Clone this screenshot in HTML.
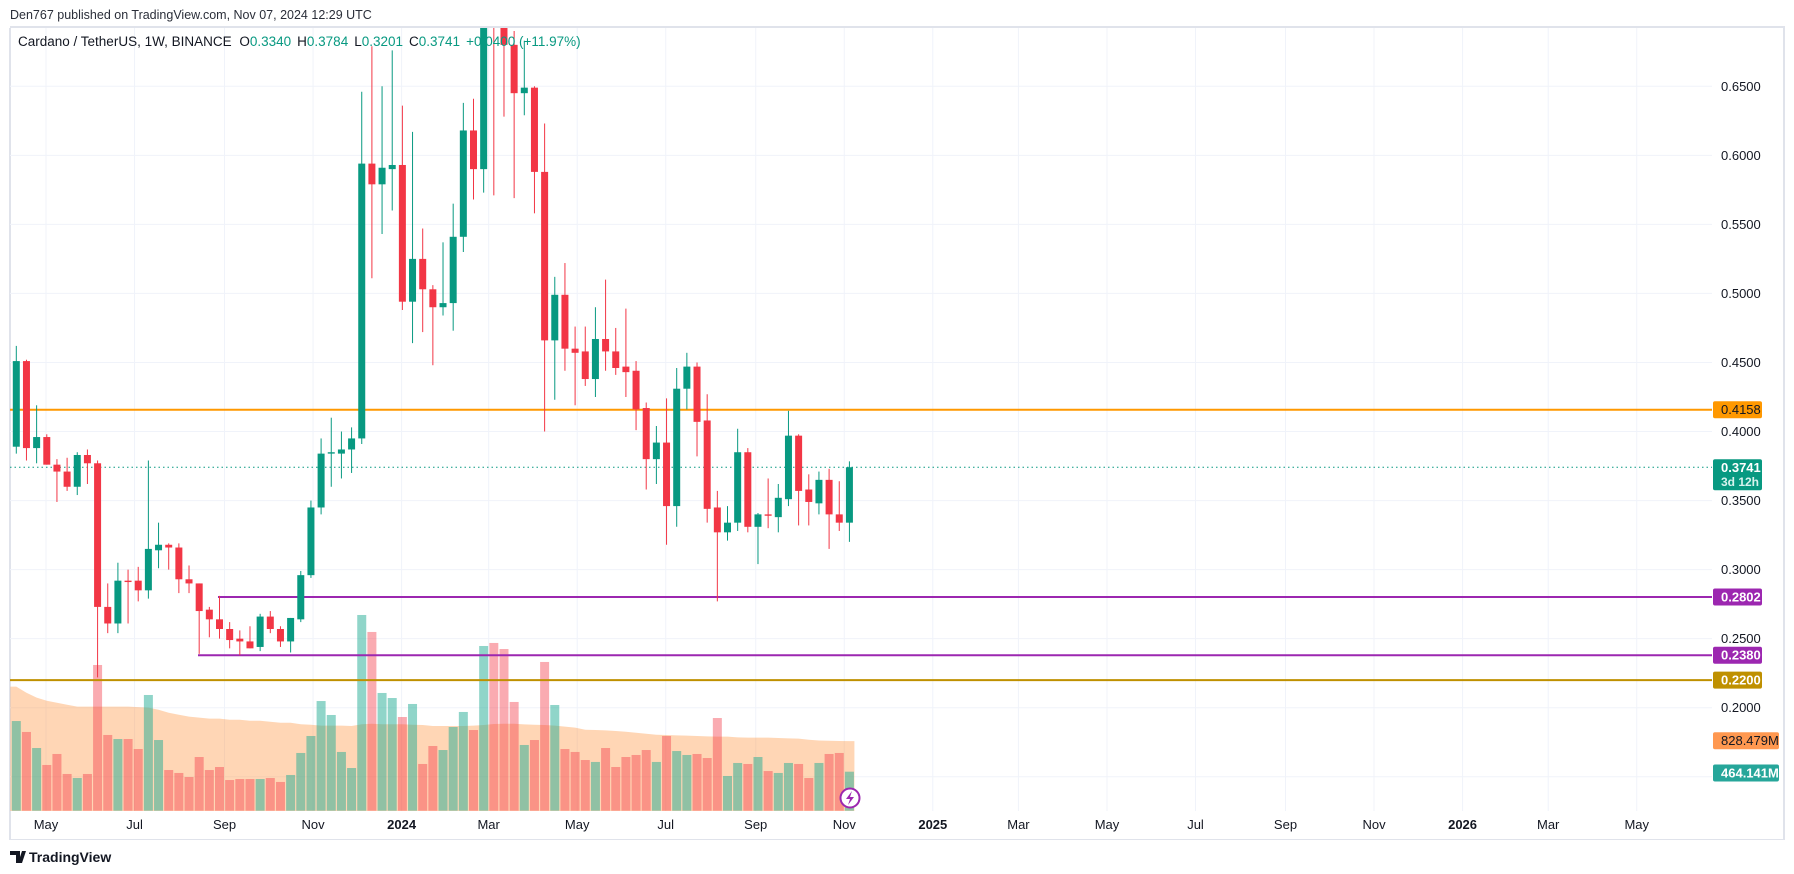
<!DOCTYPE html>
<html><head><meta charset="utf-8">
<style>
html,body{margin:0;padding:0;background:#fff;}
body{width:1794px;height:874px;overflow:hidden;font-family:"Liberation Sans",sans-serif;}
svg{display:block;}
</style></head>
<body>
<svg id="chart" width="1794" height="874" xmlns="http://www.w3.org/2000/svg">
  <defs><clipPath id="plotclip"><rect x="10" y="28" width="1702" height="783"/></clipPath></defs>
  <rect x="0" y="0" width="1794" height="874" fill="#fff"/>
  <text x="10" y="19" font-size="12.5" fill="#2a2e39">Den767 published on TradingView.com, Nov 07, 2024 12:29 UTC</text>
  <rect x="10" y="26" width="1775" height="2" fill="#e0e3eb"/>
  <rect x="9" y="28" width="2" height="812" fill="#e0e3eb"/>
  <rect x="1783" y="28" width="2" height="812" fill="#e0e3eb"/>
  <rect x="10" y="839" width="1775" height="1" fill="#e0e3eb"/>
  <g id="grid"></g>
  <g id="vol" clip-path="url(#plotclip)"></g>
  <g id="lines"></g>
  <g id="candles" clip-path="url(#plotclip)"></g>
  <g id="axis"></g>
  <g id="taxis"></g>
  <text x="18" y="46" font-size="13.5" fill="#131722">Cardano / TetherUS, 1W, BINANCE <tspan dx="4">O</tspan><tspan fill="#089981">0.3340</tspan><tspan dx="6">H</tspan><tspan fill="#089981">0.3784</tspan><tspan dx="6">L</tspan><tspan fill="#089981">0.3201</tspan><tspan dx="6">C</tspan><tspan fill="#089981">0.3741</tspan><tspan dx="6" fill="#089981">+0.0400 (+11.97%)</tspan></text>
  <circle cx="850" cy="798" r="9.5" fill="#fff" stroke="#9c27b0" stroke-width="2"/>
  <path d="M852 791 L846 799 L850 799 L848 805 L854 797 L850 797 Z" fill="#9c27b0"/>
  <g>
    <path d="M10 851 H20 V863 H16 V855 H10 Z M22 851 H26 L22 863 H18 Z" fill="#131722"/>
    <text x="29" y="862" font-size="14" font-weight="bold" fill="#131722">TradingView</text>
  </g>
</svg>
<script>
const opens  = [.389,.451,.388,.396,.376,.371,.360,.383,.377,.273,.261,.292,.292,.285,.314,.318,.316,.293,.290,.271,.264,.257,.250,.248,.244,.266,.257,.248,.264,.296,.345,.384,.384,.387,.395,.594,.579,.590,.593,.494,.525,.503,.490,.493,.541,.618,.590,.700,.695,.680,.645,.649,.588,.466,.499,.460,.458,.438,.467,.458,.447,.444,.417,.380,.392,.346,.431,.447,.408,.345,.327,.334,.385,.331,.340,.338,.351,.397,.358,.348,.365,.340,.3340];
const highs  = [.462,.452,.419,.398,.380,.381,.385,.387,.379,.290,.305,.300,.302,.379,.334,.319,.319,.303,.290,.273,.281,.262,.256,.259,.268,.270,.259,.265,.299,.350,.395,.410,.400,.403,.646,.679,.650,.676,.636,.617,.547,.506,.537,.565,.638,.641,.720,.720,.710,.690,.683,.650,.623,.512,.522,.476,.476,.490,.510,.475,.489,.451,.421,.404,.424,.446,.457,.450,.427,.357,.346,.402,.388,.341,.366,.362,.415,.398,.369,.371,.373,.364,.3784];
const lows   = [.384,.379,.377,.376,.349,.357,.354,.362,.222,.254,.254,.261,.277,.279,.301,.300,.283,.283,.239,.251,.250,.243,.238,.243,.241,.254,.244,.240,.262,.294,.340,.360,.366,.370,.391,.511,.543,.560,.488,.464,.472,.448,.484,.473,.530,.568,.573,.571,.628,.569,.629,.558,.400,.423,.444,.419,.433,.425,.444,.441,.425,.401,.358,.362,.318,.331,.416,.382,.334,.277,.321,.328,.327,.304,.330,.327,.346,.332,.332,.340,.315,.328,.3201];
const closes = [.451,.388,.396,.376,.371,.360,.383,.377,.273,.261,.292,.291,.285,.315,.318,.316,.293,.290,.270,.264,.257,.249,.248,.243,.266,.257,.248,.265,.296,.345,.384,.385,.387,.395,.594,.579,.591,.593,.494,.525,.503,.490,.493,.541,.618,.590,.700,.695,.680,.645,.649,.588,.466,.499,.460,.457,.438,.467,.458,.446,.443,.416,.380,.392,.346,.431,.447,.407,.344,.327,.334,.385,.331,.340,.339,.352,.397,.357,.349,.365,.340,.334,.3741];
const volumes = [1067,937,746,544,675,437,389,437,1734,901,853,853,734,1377,841,484,449,401,639,484,520,365,377,377,377,389,342,425,687,889,1305,1139,699,508,2329,2127,1401,1341,1115,1270,556,770,722,996,1175,960,1960,1996,1924,1294,782,841,1770,1258,734,699,603,580,746,520,639,663,722,580,889,710,663,675,627,1103,413,568,556,639,472,449,568,556,389,568,675,687,464.141];
const volumeMA = [1476,1404,1345,1309,1285,1261,1238,1238,1238,1238,1238,1238,1232,1226,1202,1166,1142,1119,1107,1095,1095,1083,1083,1071,1071,1059,1047,1047,1029,1023,1012,1012,1012,1008,1029,1035,1029,1029,1029,1023,1020,1008,1008,1008,1008,1012,1020,1032,1035,1035,1027,1023,1020,1012,1000,988,964,960,956,948,940,928,916,904,901,896,893,889,884,881,881,872,869,869,869,865,860,857,845,835,832,830,828.479];
const priceTicks = ["0.6500","0.6000","0.5500","0.5000","0.4500","0.4000","0.3500","0.3000","0.2500","0.2000"];
const timeLabels = ["May","Jul","Sep","Nov","2024","Mar","May","Jul","Sep","Nov","2025","Mar","May","Jul","Sep","Nov","2026","Mar","May"];
const timeLabelDays = [0,61,123,184,245,305,366,427,489,550,611,670,731,792,854,915,976,1035,1096];
const levelPrices = [0.4158,0.2802,0.2380,0.2200];
const lastPrice = 0.3741;

const NS="http://www.w3.org/2000/svg";
function el(tag,attrs,parent){const e=document.createElementNS(NS,tag);for(const k in attrs)e.setAttribute(k,attrs[k]);parent.appendChild(e);return e;}
function yScale(p){return 409.7+(0.4158-p)*1381;}
function xScale(i){return 16.3+i*10.16;}
function volY(v){return 810.7-v/11.9;}
function dayX(d){return 46+d*1.4514;}
const GREEN="#089981",RED="#f23645";

const grid=document.getElementById('grid');
priceTicks.concat(["0.1500"]).forEach(t=>{
  const y=yScale(parseFloat(t));
  const l=el('line',{x1:10,x2:1712,y1:y,y2:y,stroke:"#f0f3fa","stroke-width":1},grid);
  
  
});
timeLabelDays.forEach(d=>{
  const x=dayX(d);
  const l=el('line',{x1:x,x2:x,y1:28,y2:811,stroke:"#f0f3fa","stroke-width":1},grid);
  
  
});

// volume MA area
const vol=document.getElementById('vol');
let d="M"+(xScale(0)-6)+" 811 L"+(xScale(0)-6)+" "+volY(volumeMA[0]);
volumeMA.forEach((v,i)=>{d+=" L"+xScale(i)+" "+volY(v);});
d+=" L"+(xScale(volumeMA.length-1)+5)+" "+volY(volumeMA[volumeMA.length-1])+" L"+(xScale(volumeMA.length-1)+5)+" 811 Z";
const area=el('path',{d:d,fill:"rgba(255,140,50,0.36)"},vol);


volumes.forEach((v,i)=>{
  const up=closes[i]>=opens[i];
  const y=volY(v);
  const r=el('rect',{x:xScale(i)-4.5,y:y,width:9,height:810.7-y,fill:up?"rgba(34,171,148,0.5)":"rgba(242,54,69,0.42)"},vol);
  
  
});

// levels
const lines=document.getElementById('lines');
const lvlStyles=[{c:"#ff9800",x:10},{c:"#9c27b0",x:218},{c:"#9c27b0",x:198},{c:"#bf9000",x:10}];
levelPrices.forEach((p,i)=>{
  const y=yScale(p);
  const l=el('line',{x1:lvlStyles[i].x,x2:1712,y1:y,y2:y,stroke:lvlStyles[i].c,"stroke-width":2},lines);
  
  
});
const ly=yScale(lastPrice);
const lp=el('line',{x1:10,x2:1712,y1:ly,y2:ly,stroke:GREEN,"stroke-width":1,"stroke-dasharray":"1.5 3"},lines);



// candles
const cg=document.getElementById('candles');
opens.forEach((o,i)=>{
  const c=closes[i],up=c>=o,col=up?GREEN:RED,x=xScale(i);
  const w=el('line',{x1:x,x2:x,y1:yScale(highs[i]),y2:yScale(lows[i]),stroke:col,"stroke-width":1},cg);
  
  
  const top=yScale(Math.max(o,c)),bot=yScale(Math.min(o,c));
  const b=el('rect',{x:x-3.5,y:top,width:7,height:Math.max(1.2,bot-top),fill:col},cg);
  
  
});

// price axis
const ax=document.getElementById('axis');
priceTicks.forEach(t=>{
  const tx=el('text',{x:1721,y:yScale(parseFloat(t))+4.5,"font-size":13,fill:"#131722"},ax);
  tx.textContent=t;
  
  
});
const boxes=[
  {p:levelPrices[0],bg:"#ff9800",fg:"#131722",t:levelPrices[0].toFixed(4),w:49,bold:false},
  {p:levelPrices[1],bg:"#9c27b0",fg:"#fff",t:levelPrices[1].toFixed(4),w:49,bold:true},
  {p:levelPrices[2],bg:"#9c27b0",fg:"#fff",t:levelPrices[2].toFixed(4),w:49,bold:true},
  {p:levelPrices[3],bg:"#bf9000",fg:"#fff",t:levelPrices[3].toFixed(4),w:49,bold:true}
];
boxes.forEach(b=>{
  const y=yScale(b.p);
  const r=el('rect',{x:1713,y:y-8.5,width:b.w,height:17,rx:2,fill:b.bg},ax);
  
  
  const t=el('text',{x:1721,y:y+4.5,"font-size":13,fill:b.fg,"font-weight":b.bold?"bold":"normal"},ax);
  t.textContent=b.t;
  
  
});
const lr=el('rect',{x:1713,y:ly-8,width:49,height:31,rx:2,fill:GREEN},ax);


const lt=el('text',{x:1721,y:ly+4.5,"font-size":13,fill:"#fff","font-weight":"bold"},ax);
lt.textContent=lastPrice.toFixed(4);


const lt2=el('text',{x:1721,y:ly+18.5,"font-size":12,fill:"#d8f3ee","font-weight":"bold"},ax);
lt2.textContent="3d 12h";


const vtags=[{v:volumeMA[volumeMA.length-1],bg:"#ff9850",fg:"#131722",b:false},{v:volumes[volumes.length-1],bg:"#26a69a",fg:"#fff",b:true}];
const vtagY=[740.7,773];
vtags.forEach((t,i)=>{
  const r=el('rect',{x:1713,y:vtagY[i]-8.5,width:66,height:17,rx:2,fill:t.bg},ax);
  
  
  const tx=el('text',{x:1721,y:vtagY[i]+4.5,"font-size":13,fill:t.fg,"font-weight":t.b?"bold":"normal"},ax);
  tx.textContent=t.v.toFixed(3)+"M";
  
  
});

// time axis
const ta=document.getElementById('taxis');
timeLabels.forEach((s,i)=>{
  const isYear=/^\d{4}$/.test(s);
  const t=el('text',{x:dayX(timeLabelDays[i]),y:829,"font-size":13,fill:"#131722","text-anchor":"middle","font-weight":isYear?"bold":"normal"},ta);
  t.textContent=s;
  
  
});
</script>
</body></html>
